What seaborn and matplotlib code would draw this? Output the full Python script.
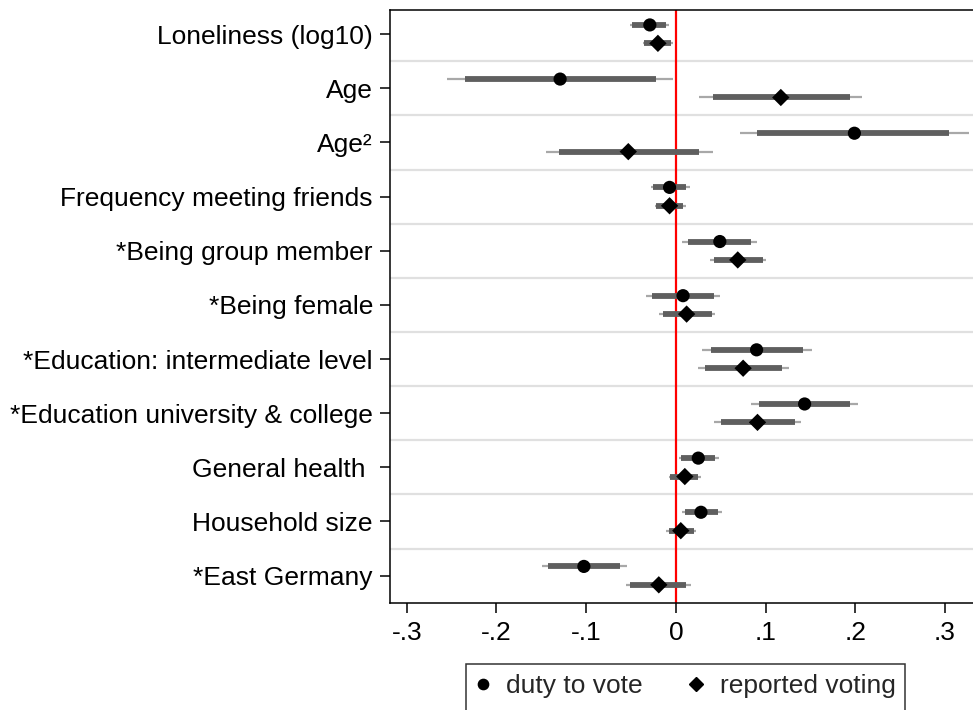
import numpy as np
import pandas as pd
import matplotlib
matplotlib.use("Agg")
import matplotlib.pyplot as plt
from matplotlib.lines import Line2D
import seaborn as sns

variables = ["Loneliness (log10)", "Age", "Age\u00b2", "Frequency meeting friends",
             "*Being group member", "*Being female", "*Education: intermediate level",
             "*Education university & college", "General health ", "Household size",
             "*East Germany"]

duty_est  = [-0.029, -0.129, 0.199, -0.007, 0.049, 0.008, 0.090, 0.1435, 0.025, 0.028, -0.1025]
duty_lo90 = [-0.049, -0.235, 0.091, -0.025, 0.013, -0.027, 0.039, 0.093, 0.006, 0.010, -0.142]
duty_hi90 = [-0.011, -0.022, 0.305, 0.011, 0.084, 0.043, 0.142, 0.194, 0.044, 0.047, -0.062]
duty_lo95 = [-0.051, -0.255, 0.071, -0.028, 0.007, -0.033, 0.029, 0.084, 0.003, 0.007, -0.149]
duty_hi95 = [-0.008, -0.003, 0.327, 0.016, 0.091, 0.049, 0.152, 0.203, 0.048, 0.051, -0.055]

rep_est  = [-0.020, 0.117, -0.053, -0.007, 0.069, 0.012, 0.075, 0.091, 0.010, 0.0055, -0.019]
rep_lo90 = [-0.035, 0.041, -0.130, -0.022, 0.043, -0.014, 0.033, 0.050, -0.006, -0.008, -0.051]
rep_hi90 = [-0.005, 0.194, 0.026, 0.008, 0.097, 0.040, 0.118, 0.1325, 0.025, 0.020, 0.011]
rep_lo95 = [-0.037, 0.026, -0.145, -0.023, 0.038, -0.019, 0.025, 0.042, -0.008, -0.011, -0.056]
rep_hi95 = [-0.003, 0.208, 0.041, 0.011, 0.101, 0.044, 0.126, 0.140, 0.028, 0.023, 0.017]

series = ["duty to vote", "reported voting"]
xticks = [-0.3, -0.2, -0.1, 0, 0.1, 0.2, 0.3]
xticklabels = ["-.3", "-.2", "-.1", "0", ".1", ".2", ".3"]

df = pd.concat([
    pd.DataFrame({"variable": variables, "series": series[0], "est": duty_est,
                  "lo90": duty_lo90, "hi90": duty_hi90, "lo95": duty_lo95, "hi95": duty_hi95}),
    pd.DataFrame({"variable": variables, "series": series[1], "est": rep_est,
                  "lo90": rep_lo90, "hi90": rep_hi90, "lo95": rep_lo95, "hi95": rep_hi95}),
], ignore_index=True)
df["row"] = pd.Categorical(df["variable"], categories=variables).codes
offsets = {series[0]: -0.17, series[1]: 0.17}
df["ypos"] = df["row"] + df["series"].map(offsets)

sns.set_theme(style="white")
plt.rcParams["font.family"] = ["Liberation Sans", "DejaVu Sans"]

fig = plt.figure(figsize=(9.73, 7.10), dpi=100)
ax = fig.add_axes([390 / 973, 1 - 602.7 / 710, (985 - 390) / 973, (602.7 - 9.5) / 710])

for b in np.arange(0.5, len(variables) - 0.5, 1):
    ax.axhline(b, color="#e0e0e0", lw=1.6, zorder=1)
ax.axvline(0, color="#ff0000", lw=1.6, zorder=2)

ax.hlines(df["ypos"], df["lo95"], df["hi95"], color="#a8a8a8", lw=1.6, zorder=3)
ax.hlines(df["ypos"], df["lo90"], df["hi90"], color="#5f5f5f", lw=4.2, zorder=4)

markers = {series[0]: "o", series[1]: "D"}
sizes = {series[0]: 90, series[1]: 78}
for s in series:
    sns.scatterplot(data=df[df["series"] == s], x="est", y="ypos", marker=markers[s],
                    s=sizes[s], color="black", edgecolor="none", linewidth=0,
                    ax=ax, zorder=5, legend=False)

ax.set_xlim(-0.3186, (985 - 675.85) / 897.2)
ax.set_ylim(10.5, -0.455)
ax.set_yticks(range(len(variables)))
ax.set_yticklabels(variables)
ax.set_xticks(xticks)
ax.set_xticklabels(xticklabels)
ax.set_xlabel("")
ax.set_ylabel("")
ax.tick_params(axis="both", which="both", direction="out", length=7.3, width=1.1,
               color="black", labelsize=19, labelcolor="black", left=True, bottom=True)
ax.tick_params(axis="y", pad=5)
ax.tick_params(axis="x", pad=6)
for sp in ax.spines.values():
    sp.set_color("black")
    sp.set_linewidth(1.1)
    sp.set_visible(True)

blank = Line2D([], [], ls="none", marker=None)
handles = [Line2D([], [], marker="o", color="black", ls="none", markersize=7.4), blank,
           Line2D([], [], marker="D", color="black", ls="none", markersize=7.6), blank]
labels = [series[0], " ", series[1], " "]
leg = fig.legend(handles, labels, loc="upper left", bbox_to_anchor=(466 / 973, 1 - 664 / 710),
                 ncol=2, fontsize=19, frameon=True, fancybox=False, borderaxespad=0,
                 borderpad=0.38, handlelength=0.5, handletextpad=0.65, columnspacing=1.75)
leg.get_frame().set_edgecolor("black")
leg.get_frame().set_linewidth(1.1)

fig.savefig("out.png", dpi=100)
